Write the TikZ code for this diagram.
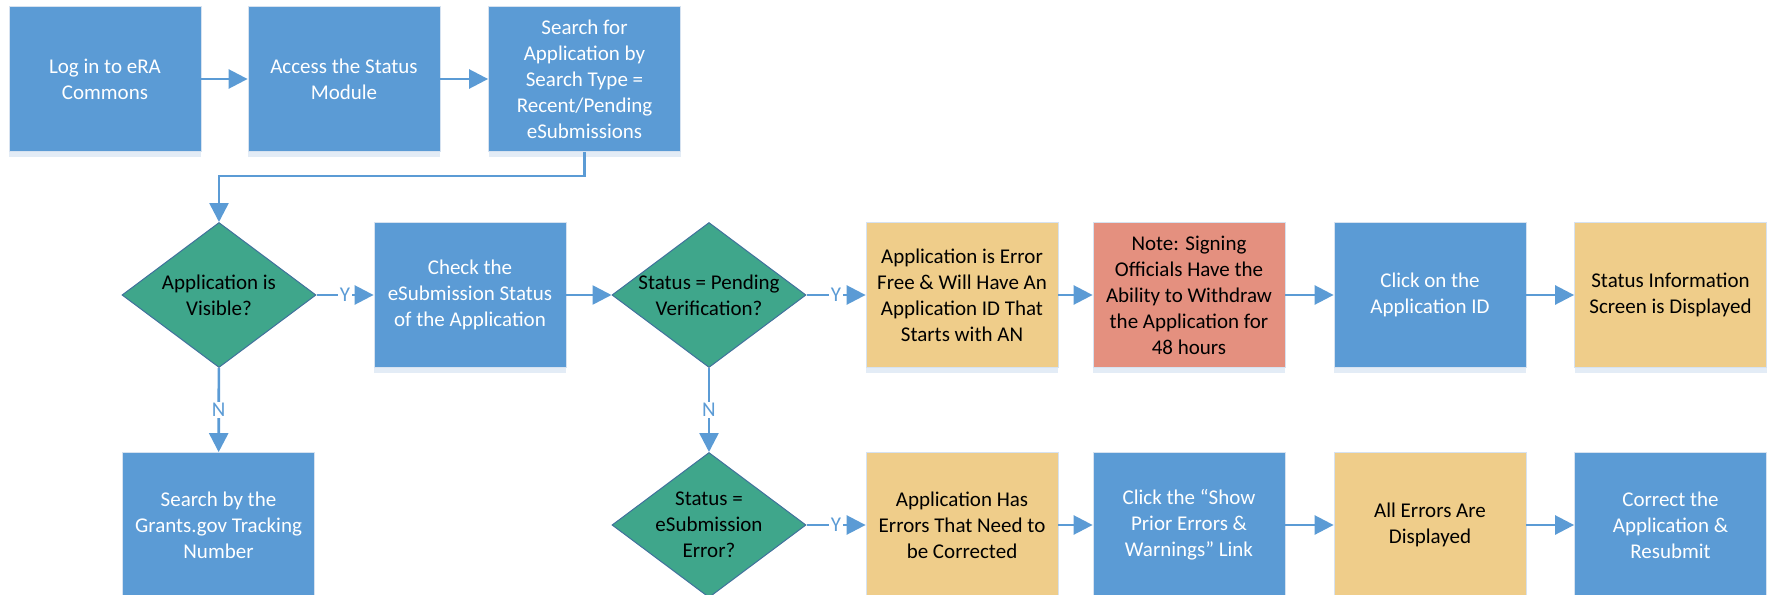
\documentclass[tikz,border=0pt]{standalone}
\usepackage{fontspec}
\setmainfont{Carlito}
\usetikzlibrary{shapes.geometric,arrows.meta,shadows}
\definecolor{stepblue}{HTML}{5B9BD5}
\definecolor{decgreen}{HTML}{3FA68B}
\definecolor{decedge}{HTML}{41719C}
\definecolor{okyellow}{HTML}{EFCD8A}
\definecolor{notered}{HTML}{E4907F}
\definecolor{boxedge}{HTML}{D6E2F0}
\definecolor{shadowblue}{HTML}{E3ECF6}

\begin{document}
\begin{tikzpicture}[x=1pt,y=-1pt]
            \tikzset{every node/.style={font=\fontsize{21}{26}\selectfont, align=center, inner sep=0pt},
              basebox/.style={rectangle, minimum width=192pt, minimum height=145pt, draw=boxedge, line width=0.8pt,
                drop shadow={shadow xshift=0pt, shadow yshift=-5pt, fill=shadowblue, opacity=1}},
              bluebox/.style={basebox, fill=stepblue, text=white},
              yellowbox/.style={basebox, fill=okyellow, text=black},
              redbox/.style={basebox, fill=notered, text=black},
              decision/.style={diamond, minimum width=194pt, minimum height=145pt, fill=decgreen, draw=decedge,
                line width=1pt, shape aspect=1.34},
              link/.style={draw=stepblue, line width=2.6pt, -{Triangle[length=19pt,width=19pt]}},
              answer/.style={fill=white, text=stepblue, inner sep=1.5pt}}
            \useasboundingbox (0,0) rectangle (1771,594);
            \node [bluebox] (login) at (105,79) {Log in to eRA\\Commons};
            \node [bluebox] (module) at (344,79) {Access the Status\\Module};
            \node [bluebox] (search) at (584.5,79) {Search for\\Application by\\Search Type =\\Recent/Pending\\eSubmissions};
            \node [decision, label={[align=center]center:Application is\\Visible?}] (visible) at (219,295) {};
            \node [bluebox] (check) at (470,295) {Check the\\eSubmission Status\\of the Application};
            \node [decision, label={[align=center]center:Status = Pending\\Verification?}] (pending) at (709,295) {};
            \node [yellowbox] (errfree) at (962,295) {Application is Error\\Free \& Will Have An\\Application ID That\\Starts with AN};
            \node [redbox] (note) at (1189,295) {Note: Signing\\Officials Have the\\Ability to Withdraw\\the Application for\\48 hours};
            \node [bluebox] (clickid) at (1430,295) {Click on the\\Application ID};
            \node [yellowbox] (info) at (1670.5,295) {Status Information\\Screen is Displayed};
            \node [bluebox] (tracking) at (218.5,525) {Search by the\\Grants.gov Tracking\\Number};
            \node [decision, label={[align=center]center:Status =\\eSubmission\\Error?}] (suberr) at (709,525) {};
            \node [yellowbox] (haserr) at (962,525) {Application Has\\Errors That Need to\\be Corrected};
            \node [bluebox] (showerr) at (1189,525) {Click the “Show\\Prior Errors \&\\Warnings” Link};
            \node [yellowbox] (allerr) at (1430,525) {All Errors Are\\Displayed};
            \node [bluebox] (resubmit) at (1670.5,525) {Correct the\\Application \&\\Resubmit};
            \draw [link] (login) -- (module);
            \draw [link] (module) -- (search);
            \draw [link] (search.south) -- ++(0,24) -| (visible.north);
            \draw [link] (visible) -- node [answer] {Y} (check);
            \draw [link] (check) -- (pending);
            \draw [link] (pending) -- node [answer] {Y} (errfree);
            \draw [link] (errfree) -- (note);
            \draw [link] (note) -- (clickid);
            \draw [link] (clickid) -- (info);
            \draw [link] (visible) -- node [answer] {N} (tracking);
            \draw [link] (pending) -- node [answer] {N} (suberr);
            \draw [link] (suberr) -- node [answer] {Y} (haserr);
            \draw [link] (haserr) -- (showerr);
            \draw [link] (showerr) -- (allerr);
            \draw [link] (allerr) -- (resubmit);
            \end{tikzpicture}
\end{document}
